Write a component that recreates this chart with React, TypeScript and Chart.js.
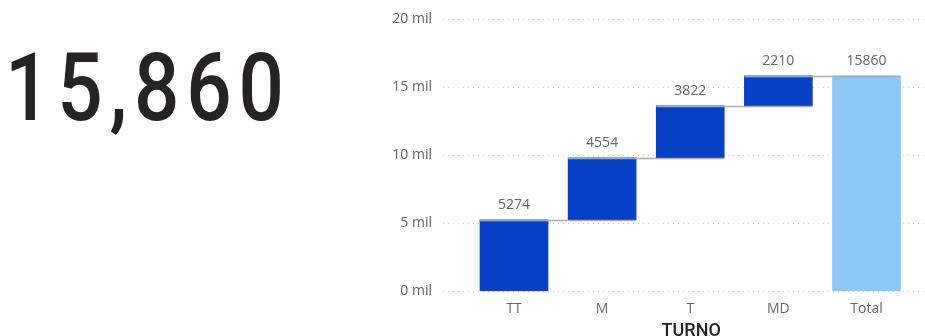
import React, { useEffect, useRef } from "react";
import { Chart, registerables } from "chart.js";

Chart.register(...registerables);

const categories = ["TT", "M", "T", "MD", "Total"];
const increments = [5274, 4554, 3822, 2210];
const totalValue = 15860;
const yTickValues = [0, 5000, 10000, 15000, 20000];
const bigNumber = "15,860";
const axisTitle = "TURNO";

const incColor = "#0640C6";
const totalColor = "#8CC7F5";

export default function App() {
  const canvasRef = useRef<HTMLCanvasElement | null>(null);

  useEffect(() => {
    if (!canvasRef.current) return;
    const starts: number[] = [];
    let run = 0;
    increments.forEach((v) => {
      starts.push(run);
      run += v;
    });
    const data = categories.map((_, i) =>
      i < increments.length
        ? { x: i, y: [starts[i], starts[i] + increments[i]] }
        : { x: i, y: [0, totalValue] }
    );
    const labelsText = [...increments, totalValue].map(String);

    const overlay = {
      id: "overlay",
      afterDatasetsDraw(chart: any) {
        const ctx = chart.ctx;
        const meta = chart.getDatasetMeta(0);
        const bars = meta.data as any[];
        ctx.save();
        ctx.strokeStyle = "#ABABAB";
        ctx.lineWidth = 1.5;
        for (let i = 0; i < bars.length - 1; i++) {
          const b = bars[i];
          const n = bars[i + 1];
          const y = Math.round(b.y) + 0.5;
          ctx.beginPath();
          ctx.moveTo(b.x - b.width / 2, y);
          ctx.lineTo(n.x + n.width / 2, y);
          ctx.stroke();
        }
        ctx.fillStyle = "#666666";
        ctx.font = "14px 'Open Sans'";
        ctx.textAlign = "center";
        ctx.textBaseline = "middle";
        bars.forEach((b, i) => {
          ctx.fillText(labelsText[i], b.x, b.y - 15);
        });
        const xs = chart.scales.x;
        ctx.fillStyle = "#252423";
        ctx.font = "500 18px Roboto";
        ctx.textBaseline = "alphabetic";
        ctx.fillText(axisTitle, xs.getPixelForValue((categories.length - 1) / 2) + 1, 336);
        ctx.restore();
      },
    };

    const chart = new Chart(canvasRef.current, {
      type: "bar",
      data: {
        datasets: [
          {
            data: data as any,
            backgroundColor: categories.map((_, i) => (i < increments.length ? incColor : totalColor)),
            borderWidth: 0,
            barThickness: 68,
          },
        ],
      },
      options: {
        animation: false,
        responsive: true,
        maintainAspectRatio: false,
        layout: { padding: { top: 19.5, right: 0, left: 0, bottom: 0 } },
        plugins: {
          legend: { display: false },
          tooltip: { enabled: false },
        },
        scales: {
          x: {
            type: "linear",
            offset: false,
            min: -0.8057,
            max: 4.664,
            grid: { display: false, drawTicks: false, offset: false },
            border: { display: false },
            afterBuildTicks: (scale: any) => {
              scale.ticks = categories.map((_, i) => ({ value: i }));
            },
            afterFit: (scale: any) => {
              scale.height = 44.5;
            },
            ticks: {
              padding: 9,
              color: "#666666",
              font: { family: "'Open Sans'", size: 14 },
              callback: (v: any) => categories[Math.round(Number(v))] ?? "",
            },
          },
          y: {
            min: 0,
            max: 20000,
            afterBuildTicks: (scale: any) => {
              scale.ticks = yTickValues.map((v) => ({ value: v }));
            },
            afterFit: (scale: any) => {
              scale.width = 83;
            },
            grid: {
              color: "#C8C8C8",
              drawTicks: false,
              lineWidth: 1,
            },
            border: { display: false, dash: [1, 4] },
            ticks: {
              padding: 11,
              color: "#666666",
              font: { family: "'Open Sans'", size: 14 },
              callback: (v: any) => `${Number(v) / 1000} mil`,
            },
          },
        },
      } as any,
      plugins: [overlay],
    });
    return () => chart.destroy();
  }, []);

  return (
    <div
      style={{
        position: "fixed",
        left: 0,
        top: 0,
        width: 925,
        height: 336,
        background: "#ffffff",
        overflow: "hidden",
      }}
    >
      <div
        style={{
          position: "absolute",
          left: 5,
          top: 41,
          fontFamily: "Roboto",
          fontWeight: 500,
          fontSize: 94,
          lineHeight: "94px",
          letterSpacing: 8,
          transform: "scaleX(0.85)",
          transformOrigin: "left top",
          color: "#252423",
          whiteSpace: "nowrap",
        }}
      >
        {bigNumber}
      </div>
      <div style={{ position: "absolute", left: 360, top: 0, width: 565, height: 336 }}>
        <canvas ref={canvasRef} />
      </div>
    </div>
  );
}
